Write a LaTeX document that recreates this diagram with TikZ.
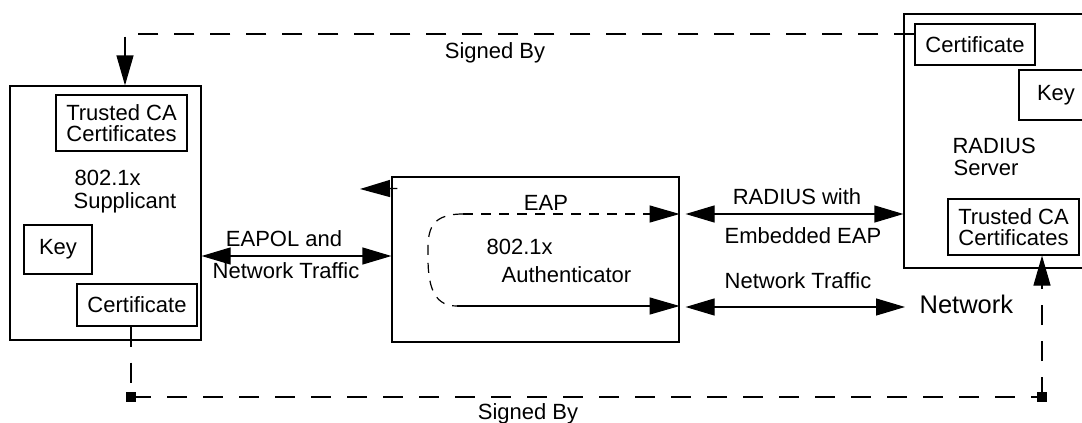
\documentclass[tikz,border=0pt]{standalone}
\usepackage{fontspec}
\setmainfont{Liberation Sans}
\usetikzlibrary{arrows.meta}
\begin{document}
\begin{tikzpicture}[x=1pt,y=-1pt,
  line width=1.2pt,
  lbl/.style={font=\fontsize{22}{21}\selectfont, inner sep=0pt},
  box/.style={draw, inner sep=0pt, align=center, font=\fontsize{22}{21}\selectfont},
  tip/.style={-{Triangle[length=30pt,width=17pt]}},
  twoway/.style={{Triangle[length=29pt,width=17pt]}-{Triangle[length=29pt,width=17pt]}},
  sig/.style={dash pattern=on 20pt off 16pt},
  eapdash/.style={dash pattern=on 10pt off 8pt},
  joint/.style={fill, draw=none, minimum size=10pt, inner sep=0pt}
]
\useasboundingbox (0,0) rectangle (1082,423);
\clip (0,0) rectangle (1082,423);

% Supplicant
\node[draw, minimum width=191pt, minimum height=254pt] (supp) at (105.5,213) {};
\node[box, minimum width=131pt, minimum height=56pt] (supTCA) at (121.5,123) {Trusted CA\\Certificates};
\node[box, minimum width=68pt, minimum height=49pt] (supKey) at (58,249.5) {Key};
\node[box, minimum width=120pt, minimum height=42pt] (supCert) at (137,305) {Certificate};
\node[lbl, anchor=base west] (suppA) at (74,185) {802.1x};
\node[lbl, anchor=base west] (suppB) at (73,208) {Supplicant};

% Authenticator
\node[draw, minimum width=287pt, minimum height=165pt] (auth) at (535.5,259.5) {};
\node[lbl, anchor=base west] (authA) at (486,254) {802.1x};
\node[lbl, anchor=base west] (authB) at (501,282) {Authenticator};
\node[lbl, anchor=base] (eap) at (546,210) {EAP};

% RADIUS server
\node[draw, minimum width=206pt, minimum height=254pt] (server) at (1007,141) {};
\node[box, minimum width=120pt, minimum height=41pt] (srvCert) at (975,44.5) {Certificate};
\node[box, minimum width=74pt, minimum height=50pt] (srvKey) at (1056,95) {Key};
\node[box, minimum width=131pt, minimum height=56pt] (srvTCA) at (1013.5,227) {Trusted CA\\Certificates};
\node[lbl, anchor=base west] (srvA) at (952,153) {RADIUS};
\node[lbl, anchor=base west] (srvB) at (953,175) {Server};

% Network
\node[lbl, anchor=base west, font=\fontsize{25.5}{26}\selectfont] (net) at (919,313) {Network};

% Link labels
\node[lbl, anchor=base] (l1) at (284,246) {EAPOL and};
\node[lbl, anchor=base] (l2) at (286,278) {Network Traffic};
\node[lbl, anchor=base] (l3) at (797,204) {RADIUS with};
\node[lbl, anchor=base] (l4) at (803,243) {Embedded EAP};
\node[lbl, anchor=base] (l5) at (798,288) {Network Traffic};
\node[lbl, anchor=base] (s1) at (495,58) {Signed By};
\node[lbl, anchor=base] (s2) at (528,419) {Signed By};

% Helper coordinates
\coordinate (ey) at (0,256);
\coordinate (ry) at (0,214);
\coordinate (ny) at (0,307);
\coordinate (es) at (463,214);
\coordinate (ne) at (457,306);
\coordinate (lt) at (360,189);
\node[joint] (dl) at (131,397) {};
\node[joint] (dr) at (1042,397) {};

% Top "Signed By" link
\draw[sig, tip] ([yshift=10.5pt]srvCert.west) -| ([xshift=19.5pt]supp.north);

% Bottom "Signed By" link
\draw[sig] ([xshift=-6pt]supCert.south) -- (dl.center);
\draw[sig] (dl.center) -- (dr.center);
\draw[sig, tip] (dr.center) -- (dr.center |- srvTCA.south);

% Short arrow at the authenticator's top left
\draw[tip] ([xshift=6pt,yshift=-12pt]auth.north west) -- (lt);

% EAPOL link
\draw[twoway] (supp.east |- ey) -- (auth.west |- ey);

% EAP path through the authenticator
\draw[eapdash, tip] (es) -- (auth.east |- es);
\draw[eapdash] (es) .. controls (426,214) and (428,235) .. (428,258)
               .. controls (428,292) and (437,306) .. (ne);
\draw[tip] (ne) -- (auth.east |- ne);

% RADIUS and network links
\draw[twoway, shorten <=6pt] (auth.east |- ry) -- (server.west |- ry);
\draw[twoway, shorten <=6pt, shorten >=14pt] (auth.east |- ny) -- (net.west |- ny);
\end{tikzpicture}
\end{document}
